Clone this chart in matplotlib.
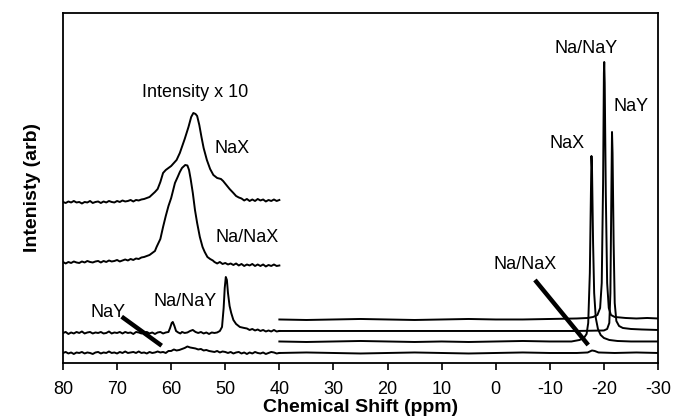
import matplotlib

matplotlib.use("Agg")
import matplotlib.pyplot as plt

plt.rcParams["font.family"] = ["Liberation Sans", "DejaVu Sans"]

# --- left region (80-40 ppm), intensity x 10, offset traces --------------- #
nax10_ppm = [80, 79.5, 79, 78.5, 78, 77.5, 77, 76.5, 76, 75.5, 75, 74.5, 74, 73.5, 73,
             72.5, 72, 71.5, 71, 70.5, 70, 69.5, 69, 68.5, 68, 67.5, 67, 66.5, 66,
             65.5, 65, 64, 63, 62.5, 62, 61.5, 61, 60.5, 60, 59, 58.4, 57.5, 56.8,
             56.3, 55.9, 55.5, 55.2, 54.8, 54.4, 54, 53.4, 52.8, 52.2, 51.5, 50.8,
             50.4, 49.8, 49.2, 48.5, 48, 47.5, 47, 46.5, 46, 45.5, 45, 44.5, 44, 43.5,
             43, 42.5, 42, 41.5, 41, 40.5, 40]
nax10_int = [161, 160, 161.5, 160.5, 162, 160.5, 161, 159.5, 161, 160.5, 162, 160, 161,
             161.5, 160, 161.5, 160.5, 162, 161, 160.5, 162, 161, 162.5, 161.5, 162,
             163, 161.5, 163, 162.5, 163.5, 164, 166, 171, 174, 181, 190, 193, 195, 197,
             203, 210, 224, 236, 246, 250, 249, 247, 238, 226, 215, 203, 194, 188, 185,
             184, 182, 178, 174, 170, 167, 165.5, 164.5, 162.5, 164, 162, 163.5, 162,
             164, 162.5, 163.5, 161.5, 163, 162, 163.5, 162, 163]

nanax10_ppm = [80, 79.5, 79, 78.5, 78, 77.5, 77, 76.5, 76, 75.5, 75, 74.5, 74, 73.5, 73,
               72.5, 72, 71.5, 71, 70.5, 70, 69.5, 69, 68.5, 68, 67.5, 67, 66.5, 66,
               65.5, 65, 64, 63, 62.7, 62, 61.5, 61, 60.5, 60, 59.3, 58.8, 58.4, 58,
               57.4, 57, 56.7, 56.4, 56, 55.6, 55.2, 54.7, 54.2, 53.8, 53.3, 52.8,
               52.3, 52, 51.5, 51, 50.5, 50, 49.5, 49, 48.5, 48, 47.5, 47, 46.5, 46,
               45.5, 45, 44.5, 44, 43.5, 43, 42.5, 42, 41.5, 41, 40.5, 40]
nanax10_int = [101, 99.5, 101, 100, 101.5, 100.5, 100, 101.5, 100.5, 102, 101, 100.5,
               101.5, 102, 100.5, 102, 101, 102.5, 101.5, 102, 103, 101.5, 102.5, 103.5,
               102.5, 104, 103, 104.5, 104, 105.5, 106, 108, 112, 116, 124, 136, 147, 157,
               165, 180, 186, 191, 195, 198, 197.5, 193, 184, 170, 153, 140, 126, 116,
               111, 106, 104, 102.5, 101, 99.5, 101, 99, 100, 98.5, 99.5, 98, 99.5, 97.5,
               99, 97, 98.5, 97.5, 99, 97, 98.5, 97, 98.5, 96.5, 98, 97, 98.5, 97, 97.5]

nanay10_ppm = [80, 79.5, 79, 78.5, 78, 77.5, 77, 76.5, 76, 75.5, 75, 74.5, 74, 73.5, 73,
               72.5, 72, 71.5, 71, 70.5, 70, 69.5, 69, 68.5, 68, 67.5, 67, 66.5, 66,
               65.5, 65, 64.5, 64, 63.5, 63, 62.5, 62, 61.5, 61, 60.5, 60.2, 59.9, 59.7,
               59.4, 59.1, 58.7, 58.3, 58, 57.5, 57, 56.5, 56, 55.5, 55, 54.5, 54, 53.5,
               53, 52.5, 52, 51.5, 51, 50.6, 50.3, 50.1, 49.9, 49.7, 49.5, 49.2, 48.9,
               48.5, 48, 47.3, 46.5, 46, 45.5, 45, 44.5, 44, 43.5, 43, 42.5, 42, 41.5,
               41, 40.5, 40]
nanay10_int = [30, 31, 29, 30.5, 29.5, 31, 30, 31.5, 29.5, 30.5, 31, 29.5, 30.5, 30, 31,
               29.5, 30, 31.5, 29.5, 30.5, 30, 31, 29.5, 31, 30, 30.5, 29, 31, 30.5, 29.5,
               30.5, 31, 29.5, 30.5, 29, 30.5, 31, 29.5, 30.5, 31, 35, 40, 41, 37, 32,
               30.5, 29.5, 31, 30, 30.5, 32, 33, 31, 30, 31, 29.5, 30.5, 29, 30.5, 30,
               30.5, 32, 36, 55, 75, 86, 83, 70, 57, 50, 43, 39, 36, 35, 34.5, 33, 34,
               32.5, 33.5, 32, 33, 31.5, 32.5, 31.5, 33, 31.5, 32]

nay10_ppm = [80, 79.5, 79, 78.5, 78, 77.5, 77, 76.5, 76, 75.5, 75, 74.5, 74, 73.5, 73,
             72.5, 72, 71.5, 71, 70.5, 70, 69.5, 69, 68.5, 68, 67.5, 67, 66.5, 66,
             65.5, 65, 64.5, 64, 63.5, 63, 62.5, 62, 61.5, 61, 60.5, 60, 59.5, 59,
             58.5, 58, 57.5, 57, 56.5, 56, 55.5, 55, 54.5, 54, 53.5, 53, 52.5, 52,
             51.5, 51, 50.5, 50, 49.5, 49, 48.5, 48, 47.5, 47, 46.5, 46, 45.5, 45,
             44.5, 44, 43.5, 43, 42.5, 42, 41.5, 41, 40.5, 40]
nay10_int = [10, 11, 9.5, 10.5, 9, 10.5, 10, 11, 9.5, 10.5, 10, 9, 10.5, 11, 9.5, 10.5,
             10, 11.5, 10, 10.5, 9.5, 11, 10, 11.5, 10, 10.5, 11, 10, 11.5, 10, 10.5, 9.5,
             11, 10, 10.5, 11.5, 10.5, 11, 10, 12, 12, 13.5, 12.5, 13, 14, 15, 16.5,
             15.5, 15, 14.5, 13.5, 14, 12.5, 13, 12, 11.5, 11, 12, 10.5, 11.5, 11, 10,
             11, 9.5, 10.5, 11, 9.5, 10.5, 9, 10.5, 9.5, 11, 10, 9.5, 10.5, 9, 10, 11,
             10.5, 9.5, 10]

# --- right region (40 to -30 ppm), full scale ----------------------------- #
nanay_ppm = [40, 35, 30, 25, 20, 15, 10, 5, 0, -5, -10, -15, -17, -18, -18.8, -19.3,
             -19.6, -19.85, -20.0, -20.06, -20.15, -20.35, -20.6, -20.9, -21.3, -22,
             -24, -26, -28, -30]
nanay_int = [43.5, 43, 43.5, 44, 43.5, 43, 43.5, 44, 43.5, 43.5, 44, 44.5, 45, 46, 48,
             55, 80, 180, 290, 301, 280, 170, 80, 55, 48, 46, 45, 44.5, 45, 44.5]

nay_ppm = [40, 35, 30, 25, 20, 15, 10, 5, 0, -5, -10, -15, -20, -20.6, -21, -21.2,
           -21.4, -21.5, -21.6, -21.8, -22, -22.3, -22.8, -23.5, -25, -27, -30]
nay_int = [32, 32, 32, 32, 32, 32, 32, 32, 32, 32, 32, 32, 32.5, 34, 40, 70, 180, 231,
           210, 120, 60, 42, 37, 35, 34, 33.5, 33]

nax_ppm = [40, 35, 30, 25, 20, 15, 10, 5, 0, -5, -10, -14, -15.5, -16.3, -16.8, -17.1,
           -17.4, -17.6, -17.7, -17.8, -18.0, -18.2, -18.5, -18.9, -19.4, -20, -21,
           -22.5, -25, -30]
nax_int = [21.5, 21, 21.5, 22, 21.5, 21, 21.5, 21, 21.5, 22, 21.5, 21.5, 23, 25, 29, 40,
           90, 170, 207, 195, 120, 70, 45, 34, 28, 25, 23, 22, 21.5, 21.5]

nanax_ppm = [40, 35, 30, 25, 20, 15, 10, 5, 0, -5, -10, -15, -17, -17.8, -18.3, -19,
             -22, -26, -30]
nanax_int = [10, 10.5, 10, 9.5, 10, 10.5, 10, 9.5, 10, 10.5, 10, 10, 10.5, 12.5, 12,
             10.5, 10, 10.5, 10]

fig = plt.figure(figsize=(6.73, 4.19), dpi=100)
ax = fig.add_axes([0.0936, 0.1337, 0.8841, 0.8353])

for x, y in [(nax10_ppm, nax10_int), (nanax10_ppm, nanax10_int),
             (nanay10_ppm, nanay10_int), (nay10_ppm, nay10_int),
             (nanay_ppm, nanay_int), (nay_ppm, nay_int),
             (nax_ppm, nax_int), (nanax_ppm, nanax_int)]:
    ax.plot(x, y, color="black", lw=1.4)

# labels and pointer lines
kw = dict(ha="center", va="center", fontsize=13)
ax.text(55.6, 270, "Intensity x 10", **kw)
ax.text(48.8, 214, "NaX", **kw)
ax.text(46.0, 125, "Na/NaX", **kw)
ax.text(57.45, 61, "Na/NaY", **kw)
ax.text(71.7, 50, "NaY", **kw)
ax.text(-16.7, 314, "Na/NaY", **kw)
ax.text(-25.0, 256, "NaY", **kw)
ax.text(-13.2, 219, "NaX", **kw)
ax.text(-5.5, 98, "Na/NaX", **kw)
ax.plot([69.15, 61.76], [46.3, 17.3], color="black", lw=3.2, solid_capstyle="butt")
ax.plot([-7.25, -17.1], [83, 18], color="black", lw=3.2, solid_capstyle="butt")

ax.set_xlim(80, -30)
ax.set_ylim(0, 350)
ax.set_xticks(range(80, -31, -10))
ax.set_xticklabels([str(v) for v in range(80, -31, -10)])
ax.set_yticks([])
ax.tick_params(axis="x", direction="out", length=5, width=1.2, labelsize=13, pad=8)
for s in ax.spines.values():
    s.set_linewidth(1.3)
ax.set_xlabel("Chemical Shift (ppm)", fontsize=14, fontweight="bold", labelpad=1)
ax.set_ylabel("Intenisty (arb)", fontsize=14, fontweight="bold", labelpad=16)

fig.savefig("out.png", dpi=100)
